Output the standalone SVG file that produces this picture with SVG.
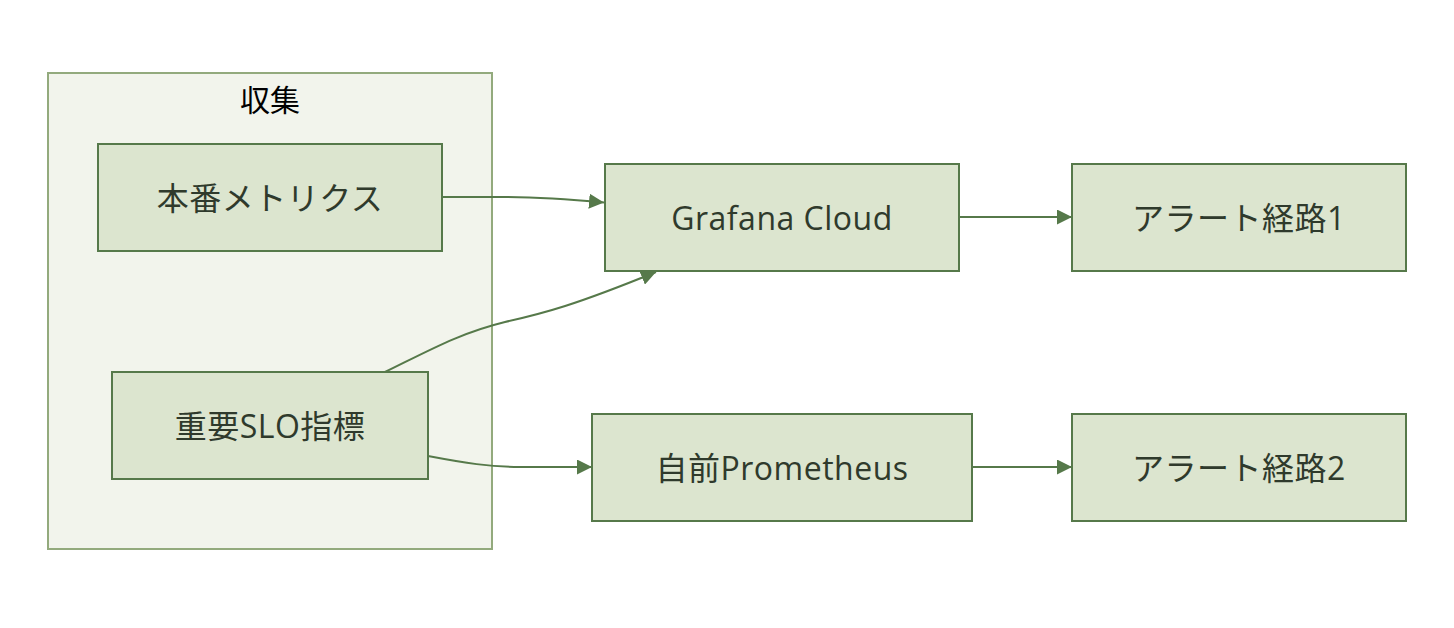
<svg xmlns="http://www.w3.org/2000/svg" width="1454" height="628" viewBox="0 0 1454 628">
<defs>
<style>
.cluster{fill:#f2f4ec;stroke:#93aa7d;stroke-width:2}
.node rect{fill:#dce5cf;stroke:#56794a;stroke-width:2}
.node text{font-family:"Open Sans","Noto Sans CJK JP",sans-serif;font-size:32px;letter-spacing:0.5px;fill:#2f3a2c;text-anchor:middle;dominant-baseline:central}
.title{font-family:"Noto Sans CJK JP","Noto Sans",sans-serif;font-size:30px;fill:#000;text-anchor:middle;dominant-baseline:central}
.edge{fill:none;stroke:#56794a;stroke-width:2}
</style>
<marker id="arrow" viewBox="0 0 10 10" refX="10" refY="5" markerWidth="15" markerHeight="15" markerUnits="userSpaceOnUse" orient="auto">
<path d="M0,0 L10,5 L0,10 z" fill="#56794a"/>
</marker>
</defs>
<rect width="1454" height="628" fill="#ffffff"/>
<g id="cluster-collect">
<rect class="cluster" x="48" y="73" width="444" height="476"/>
<text class="title" x="270" y="98">収集</text>
</g>
<g id="edges">
<path class="edge" d="M442,197 L500,197 C540,197 565,199 604,202.5" marker-end="url(#arrow)"/>
<path class="edge" d="M385,372 C430,350 460,333 505,322 C545,313 575,305 656,272" marker-end="url(#arrow)"/>
<path class="edge" d="M428,456 C465,463 490,467 520,467 L592,467" marker-end="url(#arrow)"/>
<path class="edge" d="M959,217 L1072,217" marker-end="url(#arrow)"/>
<path class="edge" d="M972,467 L1072,467" marker-end="url(#arrow)"/>
</g>
<g id="node-prod" class="node">
<rect x="98" y="144" width="344" height="107"/>
<text x="270" y="197.5">本番メトリクス</text>
</g>
<g id="node-slo" class="node">
<rect x="112" y="372" width="316" height="107"/>
<text x="270" y="425.5">重要SLO指標</text>
</g>
<g id="node-grafana" class="node">
<rect x="605" y="164" width="354" height="107"/>
<text x="782" y="217.5">Grafana Cloud</text>
</g>
<g id="node-prom" class="node">
<rect x="592" y="414" width="380" height="107"/>
<text x="782" y="467.5">自前Prometheus</text>
</g>
<g id="node-alert1" class="node">
<rect x="1072" y="164" width="334" height="107"/>
<text x="1239" y="217.5">アラート経路1</text>
</g>
<g id="node-alert2" class="node">
<rect x="1072" y="414" width="334" height="107"/>
<text x="1239" y="467.5">アラート経路2</text>
</g>
</svg>
